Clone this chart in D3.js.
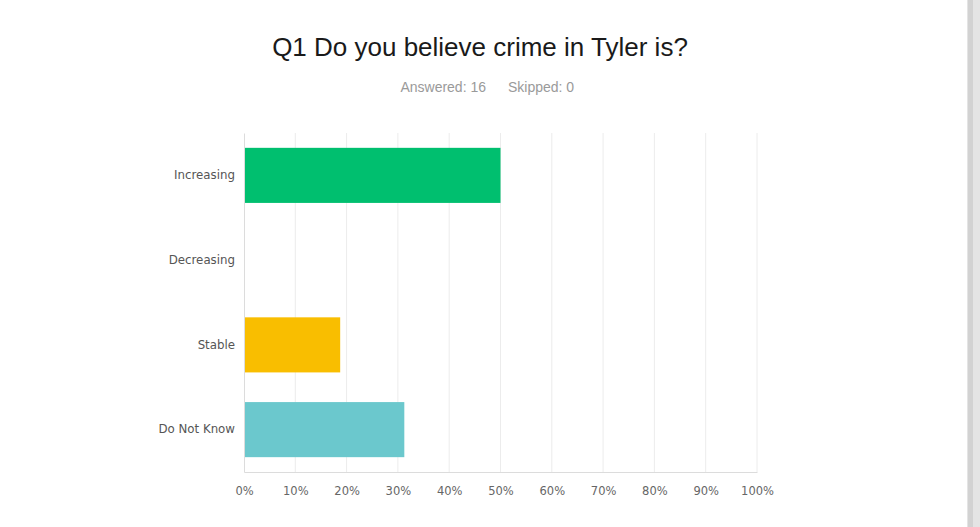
<!DOCTYPE html>
<html>
<head>
<meta charset="utf-8">
<script src="https://cdn.jsdelivr.net/npm/d3@7"></script>
<style>
  body { margin: 0; background: #ffffff; }
  #chart { width: 980px; height: 527px; }
</style>
</head>
<body>
<div id="chart"></div>
<script>
const titleText = "Q1 Do you believe crime in Tyler is?";
const answeredText = "Answered: 16";
const skippedText = "Skipped: 0";
const categories = ["Increasing", "Decreasing", "Stable", "Do Not Know"];
const percents = [50, 0, 18.75, 31.25];
const barColors = ["#00bf6f", "#00bf6f", "#f9be00", "#6bc8cd"];
const xTicks = [0, 10, 20, 30, 40, 50, 60, 70, 80, 90, 100];

const W = 980, H = 527;
const margin = { top: 133, right: 223, bottom: 55, left: 244 };
const width = W - margin.left - margin.right;
const height = H - margin.top - margin.bottom;

const svg = d3.select("#chart").append("svg")
  .attr("width", W)
  .attr("height", H);

// page edge on the right
svg.append("rect").attr("x", 967).attr("y", 0).attr("width", 13).attr("height", H).attr("fill", "#e4e4e4");
svg.append("rect").attr("x", 968).attr("y", 0).attr("width", 5).attr("height", H).attr("fill", "#d2d2d2");

svg.append("text")
  .attr("x", 480).attr("y", 56)
  .attr("text-anchor", "middle")
  .style("font-family", "'Liberation Sans', Arial, sans-serif")
  .style("font-size", "26px")
  .style("fill", "#1a1a1a")
  .text(titleText);

const sub = svg.append("g")
  .style("font-family", "'Liberation Sans', Arial, sans-serif")
  .style("font-size", "14px")
  .style("fill", "#9a9a9a");
sub.append("text").attr("x", 486).attr("y", 92).attr("text-anchor", "end").text(answeredText);
sub.append("text").attr("x", 508).attr("y", 92).text(skippedText);

const g = svg.append("g").attr("transform", `translate(${margin.left},${margin.top})`);

const x = d3.scaleLinear().domain([0, 100]).range([0, width]);
const y = d3.scaleBand().domain(categories).range([0, height])
  .paddingInner(0.35).paddingOuter(0.175);

// vertical grid
g.append("g")
  .selectAll("line")
  .data(xTicks.slice(1))
  .join("line")
  .attr("x1", d => x(d)).attr("x2", d => x(d))
  .attr("y1", 0).attr("y2", height)
  .attr("stroke", "#ececec")
  .attr("stroke-width", 1);

g.append("g")
  .selectAll("rect")
  .data(categories)
  .join("rect")
  .attr("x", 0)
  .attr("y", d => y(d))
  .attr("width", (d, i) => x(percents[i]))
  .attr("height", y.bandwidth())
  .attr("fill", (d, i) => barColors[i]);

// left axis
const yAxis = g.append("g")
  .call(d3.axisLeft(y).tickSize(0).tickPadding(9));
yAxis.select(".domain").attr("stroke", "#dcdcdc");
yAxis.selectAll("text")
  .style("font-family", "'DejaVu Sans', Verdana, sans-serif")
  .style("font-size", "11.8px")
  .style("fill", "#555");

// bottom axis
const xAxis = g.append("g")
  .attr("transform", `translate(0,${height})`)
  .call(d3.axisBottom(x).tickValues(xTicks).tickSize(0).tickPadding(15).tickFormat(d => d + "%"));
xAxis.select(".domain").attr("stroke", "#dcdcdc");
xAxis.selectAll("text")
  .style("font-family", "'DejaVu Sans', Verdana, sans-serif")
  .style("font-size", "11.5px")
  .style("fill", "#666");
</script>
</body>
</html>
